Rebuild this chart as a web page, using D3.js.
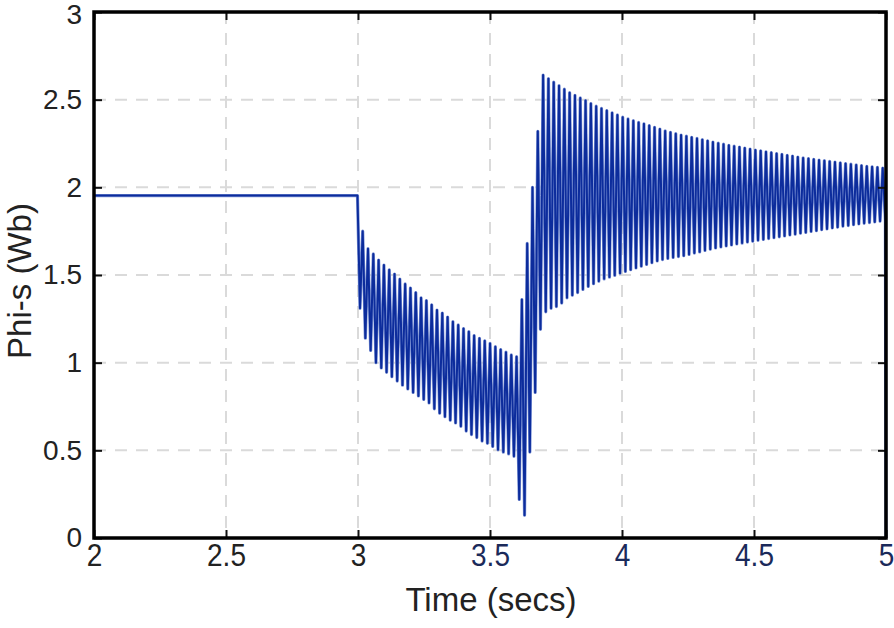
<!DOCTYPE html>
<html>
<head>
<meta charset="utf-8">
<script src="https://cdn.jsdelivr.net/npm/d3@7"></script>
<style>
  html, body { margin: 0; padding: 0; background: #fff; }
  svg { display: block; }
  text { font-family: "Liberation Sans", Arial, Helvetica, sans-serif; }
</style>
</head>
<body>
<svg id="chart" width="894" height="628"></svg>
<script>
// ---------------- data ----------------
const xTicks = [2, 2.5, 3, 3.5, 4, 4.5, 5];
const yTicks = [0, 0.5, 1, 1.5, 2, 2.5, 3];
const xLabel = "Time (secs)";
const yLabel = "Phi-s (Wb)";

// steady state before the disturbance
const steadyTimes  = [2.0, 2.998];
const steadyValues = [1.953, 1.953];
// first drop at t = 3 s
const dropTime = 3.0076, dropValue = 1.31;

// oscillation: one peak and one trough per cycle
const firstPeak = 3.0178;   // s
const period = 0.0201;      // s (≈ 50 Hz)
const peaks = [
  1.75, 1.65, 1.62, 1.585, 1.557, 1.53, 1.505, 1.477, 1.449, 1.426,
  1.40, 1.37, 1.354, 1.33, 1.30, 1.283, 1.26, 1.234, 1.215, 1.195,
  1.177, 1.155, 1.139, 1.125, 1.11, 1.091, 1.075, 1.06, 1.044, 1.034,
  1.36, 1.68, 2.00, 2.32, 2.64, 2.62, 2.60, 2.58, 2.56, 2.54,
  2.525, 2.51, 2.495, 2.478, 2.463, 2.45, 2.438, 2.425, 2.413, 2.40,
  2.39, 2.38, 2.37, 2.362, 2.352, 2.342, 2.332, 2.322, 2.314, 2.306,
  2.298, 2.292, 2.285, 2.279, 2.272, 2.265, 2.258, 2.252, 2.246, 2.24,
  2.235, 2.23, 2.224, 2.218, 2.213, 2.208, 2.203, 2.198, 2.193, 2.188,
  2.183, 2.178, 2.173, 2.168, 2.164, 2.16, 2.156, 2.152, 2.148, 2.144,
  2.14, 2.136, 2.132, 2.128, 2.124, 2.12, 2.117, 2.114, 2.11
];
const troughs = [
  1.14, 1.07, 1.00, 0.97, 0.945, 0.92, 0.895, 0.872, 0.85, 0.83,
  0.81, 0.79, 0.77, 0.737, 0.712, 0.692, 0.672, 0.656, 0.637, 0.61,
  0.59, 0.573, 0.553, 0.54, 0.522, 0.503, 0.49, 0.48, 0.466, 0.22,
  0.13, 0.49, 0.83, 1.19, 1.29, 1.31, 1.32, 1.34, 1.37, 1.385,
  1.40, 1.418, 1.435, 1.45, 1.465, 1.478, 1.488, 1.498, 1.51, 1.52,
  1.53, 1.54, 1.55, 1.56, 1.57, 1.58, 1.588, 1.594, 1.60, 1.605,
  1.61, 1.617, 1.625, 1.632, 1.64, 1.647, 1.654, 1.66, 1.666, 1.671,
  1.677, 1.682, 1.688, 1.693, 1.698, 1.703, 1.708, 1.713, 1.718, 1.723,
  1.728, 1.733, 1.738, 1.743, 1.748, 1.753, 1.758, 1.763, 1.768, 1.773,
  1.778, 1.782, 1.787, 1.791, 1.795, 1.799, 1.803, 1.807, 1.81
];
// end of record
const endTime = 5.0, endValue = 0;

// ---------------- layout ----------------
const W = 894, H = 628;
const m = { left: 94, right: 8, top: 12, bottom: 90 };
const iw = W - m.left - m.right, ih = H - m.top - m.bottom;

const svg = d3.select("#chart");
const g = svg.append("g").attr("transform", `translate(${m.left},${m.top})`);

const x = d3.scaleLinear().domain([2, 5]).range([0, iw]);
const y = d3.scaleLinear().domain([0, 3]).range([ih, 0]);

// grid
const gridColor = "#dadada";
g.append("g").selectAll("line").data(xTicks.slice(1, -1)).join("line")
  .attr("x1", d => x(d)).attr("x2", d => x(d)).attr("y1", 0).attr("y2", ih)
  .attr("stroke", gridColor).attr("stroke-width", 2).attr("stroke-dasharray", "12,9");
g.append("g").selectAll("line").data(yTicks.slice(1, -1)).join("line")
  .attr("y1", d => y(d)).attr("y2", d => y(d)).attr("x1", 0).attr("x2", iw)
  .attr("stroke", gridColor).attr("stroke-width", 2).attr("stroke-dasharray", "12,9");

// build the series
const series = [];
steadyTimes.forEach((t, i) => series.push([t, steadyValues[i]]));
series.push([dropTime, dropValue]);
peaks.forEach((p, k) => {
  const tp = firstPeak + k * period;
  series.push([tp, p]);
  series.push([tp + period / 2, troughs[k]]);
});
series.push([endTime, endValue]);

const line = d3.line().x(d => x(d[0])).y(d => y(d[1]));

g.append("defs").append("clipPath").attr("id", "clip")
  .append("rect").attr("x", 0).attr("y", 0).attr("width", iw + 2).attr("height", ih);

g.append("path").datum(series)
  .attr("clip-path", "url(#clip)")
  .attr("fill", "none").attr("stroke", "#7f95d6").attr("stroke-width", 3.2)
  .attr("stroke-linejoin", "round").attr("d", line);
g.append("path").datum(series)
  .attr("clip-path", "url(#clip)")
  .attr("fill", "none").attr("stroke", "#0c2c9c").attr("stroke-width", 2)
  .attr("stroke-linejoin", "round").attr("d", line);

// axes (ticks inward on all four sides)
const tickLen = 8;
const axB = d3.axisBottom(x).tickValues(xTicks).tickSize(-tickLen).tickPadding(14).tickFormat(d3.format("~g"));
const axT = d3.axisTop(x).tickValues(xTicks).tickSize(-tickLen).tickFormat("");
const axL = d3.axisLeft(y).tickValues(yTicks).tickSize(-tickLen).tickPadding(12).tickFormat(d3.format("~g"));
const axR = d3.axisRight(y).tickValues(yTicks).tickSize(-tickLen).tickFormat("");

function styleAxis(sel) {
  sel.select(".domain").remove();
  sel.selectAll(".tick line").attr("stroke", "#111").attr("stroke-width", 2);
}
const gB = g.append("g").attr("transform", `translate(0,${ih})`).call(axB).call(styleAxis);
g.append("g").call(axT).call(styleAxis);
const gL = g.append("g").call(axL).call(styleAxis);
g.append("g").attr("transform", `translate(${iw},0)`).call(axR).call(styleAxis);

gB.selectAll(".tick text")
  .attr("font-size", 28).attr("font-family", "Liberation Sans, Arial, sans-serif")
  .attr("fill", d => d >= 3.5 ? "#1b2a5a" : "#222")
  .attr("transform", "scale(1,1.12)").attr("dy", "0.55em").attr("y", 10);
gL.selectAll(".tick text")
  .attr("font-size", 28).attr("font-family", "Liberation Sans, Arial, sans-serif")
  .attr("fill", "#222").attr("x", -12)
  .attr("dy", d => d === 3 ? "0.42em" : "0.32em");

// frame
g.append("rect").attr("x", 0).attr("y", 0).attr("width", iw).attr("height", ih)
  .attr("fill", "none").attr("stroke", "#000").attr("stroke-width", 3.5);

// axis titles
svg.append("text").attr("x", m.left + iw / 2 + 1).attr("y", 611)
  .attr("text-anchor", "middle").attr("font-size", 33).attr("fill", "#222")
  .text(xLabel);
svg.append("text").attr("transform", `translate(31,${m.top + ih / 2 + 6}) rotate(-90)`)
  .attr("text-anchor", "middle").attr("font-size", 33).attr("fill", "#222")
  .text(yLabel);
</script>
</body>
</html>
